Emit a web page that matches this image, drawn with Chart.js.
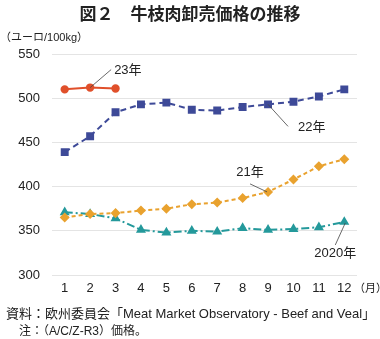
<!DOCTYPE html>
<html>
<head>
<meta charset="utf-8">
<script src="https://cdn.jsdelivr.net/npm/chart.js@4/dist/chart.umd.min.js"></script>
<style>
  html, body { margin: 0; padding: 0; background: #fff; }
  #wrap { width: 380px; height: 339px; position: relative; }
</style>
</head>
<body>
<div id="wrap"><canvas id="priceChart" width="380" height="339"></canvas></div>
<script>
// データ（ユーロ/100kg）
const months = ['1', '2', '3', '4', '5', '6', '7', '8', '9', '10', '11', '12'];
const y2023 = [510, 512, 511];
const y2022 = [439, 457, 484, 493, 495, 487, 486, 490, 493, 496, 502, 510];
const y2021 = [365, 369, 370, 373, 375, 380, 382, 387, 394, 408, 423, 431];
const y2020 = [371, 369, 364, 351, 348, 350, 349, 353, 351, 352, 354, 360];
const yTicks = [300, 350, 400, 450, 500, 550];

const JP = '"Noto Sans CJK JP", sans-serif';
const NUM = '"Liberation Sans", "Noto Sans CJK JP", sans-serif';

// 系列ラベルと引き出し線
const callouts = [
    { ds: 0, idx: 1, text: '23年', line: [0, 0, 21, -18], tx: 24, ty: -17, align: 'left' },
    { ds: 1, idx: 8, text: '22年', line: [0, 0, 20, 22], tx: 30, ty: 23, align: 'left' },
    { ds: 2, idx: 8, text: '21年', line: [-18, -8, -1, 0], tx: -18, ty: -19, align: 'center' },
    { ds: 3, idx: 11, text: '2020年', line: [1, 1, -9, 23], tx: -9, ty: 31, align: 'center' }
];

const textPlugin = {
    id: 'texts',
    afterDraw(chart) {
        const ctx = chart.ctx;
        ctx.save();
        ctx.fillStyle = '#222';
        ctx.textBaseline = 'middle';

        // タイトル
        ctx.font = 'bold 17px ' + JP;
        ctx.textAlign = 'center';
        ctx.fillText('図２　牛枝肉卸売価格の推移', 190, 14);

        // 単位
        ctx.font = '11px ' + NUM;
        ctx.textAlign = 'left';
        ctx.fillText('（ユーロ/100kg）', 0, 38);

        // 月
        ctx.font = '11px ' + JP;
        ctx.fillText('（月）', 354, 288);

        // 出典
        ctx.font = '13px ' + NUM;
        ctx.fillText('資料：欧州委員会「Meat Market Observatory - Beef and Veal」', 6, 314);
        ctx.font = '12px ' + NUM;
        ctx.fillText('注：（A/C/Z-R3）価格。', 19, 332);

        // 引き出し線とラベル
        callouts.forEach(c => {
            const pt = chart.getDatasetMeta(c.ds).data[c.idx];
            const x = pt.x, y = pt.y;
            ctx.strokeStyle = '#444';
            ctx.lineWidth = 0.8;
            ctx.beginPath();
            ctx.moveTo(x + c.line[0], y + c.line[1]);
            ctx.lineTo(x + c.line[2], y + c.line[3]);
            ctx.stroke();
            ctx.font = '13px ' + NUM;
            ctx.textAlign = c.align;
            ctx.fillText(c.text, x + c.tx, y + c.ty);
        });
        ctx.restore();
    }
};

new Chart(document.getElementById('priceChart').getContext('2d'), {
    type: 'line',
    data: {
        labels: months,
        datasets: [
            {
                label: '23年',
                data: y2023,
                borderColor: '#e0502b',
                backgroundColor: '#e0502b',
                borderWidth: 2,
                pointStyle: 'circle',
                pointRadius: 3.2
            },
            {
                label: '22年',
                data: y2022,
                borderColor: '#3e4a98',
                backgroundColor: '#3e4a98',
                borderWidth: 2,
                borderDash: [6, 4],
                pointStyle: 'rect',
                pointRadius: 4.2
            },
            {
                label: '21年',
                data: y2021,
                borderColor: '#e9a22f',
                backgroundColor: '#e9a22f',
                borderWidth: 2,
                borderDash: [4, 3],
                pointStyle: 'rectRot',
                pointRadius: 3.6
            },
            {
                label: '2020年',
                data: y2020,
                borderColor: '#24999b',
                backgroundColor: '#24999b',
                borderWidth: 2,
                borderDash: [8, 3, 2, 3],
                pointStyle: 'triangle',
                pointRadius: 3.8
            }
        ]
    },
    options: {
        responsive: false,
        animation: false,
        layout: { padding: { top: 54, right: 23, bottom: 44, left: 0 } },
        plugins: {
            legend: { display: false },
            title: { display: false },
            tooltip: { enabled: false }
        },
        scales: {
            x: {
                offset: true,
                grid: { display: false, drawTicks: false },
                border: { display: false },
                afterFit: s => { s.height = 20; },
                ticks: {
                    color: '#222',
                    padding: 6,
                    maxRotation: 0,
                    font: { family: NUM, size: 13 }
                }
            },
            y: {
                min: 300,
                max: 550,
                afterFit: s => { s.width = 52; },
                afterBuildTicks: s => { s.ticks = yTicks.map(v => ({ value: v })); },
                grid: { color: '#e4e4e4', lineWidth: 1, drawTicks: false },
                border: { display: false },
                ticks: {
                    color: '#222',
                    padding: 12,
                    font: { family: NUM, size: 13 }
                }
            }
        }
    },
    plugins: [textPlugin]
});
</script>
</body>
</html>
